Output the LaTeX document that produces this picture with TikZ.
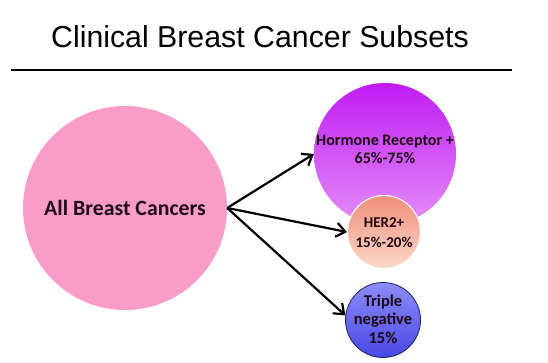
\documentclass[tikz,border=0pt]{standalone}
\usepackage{fontspec}
\setmainfont{Carlito}
\newfontfamily\titlefont{Liberation Sans}
\usetikzlibrary{arrows.meta}
\definecolor{pinkc}{HTML}{F99CC8}
\definecolor{hrtop}{HTML}{C01CF5}
\definecolor{hrbot}{HTML}{E48EF8}
\definecolor{hetop}{HTML}{F0907A}
\definecolor{hebot}{HTML}{FCD8C8}
\definecolor{tntop}{HTML}{8C8CF8}
\definecolor{tnbot}{HTML}{4848E6}
\definecolor{tnline}{HTML}{1E1E5A}
\definecolor{txt}{HTML}{200818}
\tikzset{
  blob/.style={circle, inner sep=0pt},
  lbl/.style={align=center, text=txt, inner sep=0pt},
  arr/.style={-{Straight Barb[length=9pt,width=14pt,line width=2.2pt]}, line width=2.2pt, black}
}
\begin{document}
\begin{tikzpicture}[x=1pt,y=-1pt]
\useasboundingbox (0,0) rectangle (548,362);
\node[font=\titlefont\fontsize{30.3}{34}\selectfont] (title) at (260,37) {Clinical Breast Cancer Subsets};
\coordinate (l1) at (11,70);
\coordinate (l2) at (512,70);
\draw[line width=1.2pt] (l1) -- (l2);
\node[blob, fill=pinkc, minimum size=204pt] (all) at (125,208) {};
\node[lbl, font=\bfseries\fontsize{21.8}{24}\selectfont] (allt) at (125,208) {All Breast Cancers};
\node[blob, top color=hrtop, bottom color=hrbot, minimum size=142pt] (hr) at (385,154) {};
\node[lbl, font=\bfseries\fontsize{16}{18}\selectfont] (hrt) at (385,149) {Hormone Receptor +\\65\%-75\%};
\node[blob, draw=white, line width=1pt, top color=hetop, bottom color=hebot, minimum size=73pt] (her) at (384,232) {};
\node[lbl, font=\bfseries\fontsize{15}{20}\selectfont] (hert) at (384,233) {HER2+\\15\%-20\%};
\node[blob, draw=tnline, line width=0.8pt, top color=tntop, bottom color=tnbot, minimum size=75pt] (tn) at (383,320) {};
\node[lbl, font=\bfseries\fontsize{16.5}{18.5}\selectfont] (tnt) at (383,319) {Triple\\negative\\15\%};
\draw[arr] (all.east) -- (hr.west);
\draw[arr] (all.east) -- (her.west);
\draw[arr] (all.east) -- (tn.173);
\end{tikzpicture}
\end{document}
